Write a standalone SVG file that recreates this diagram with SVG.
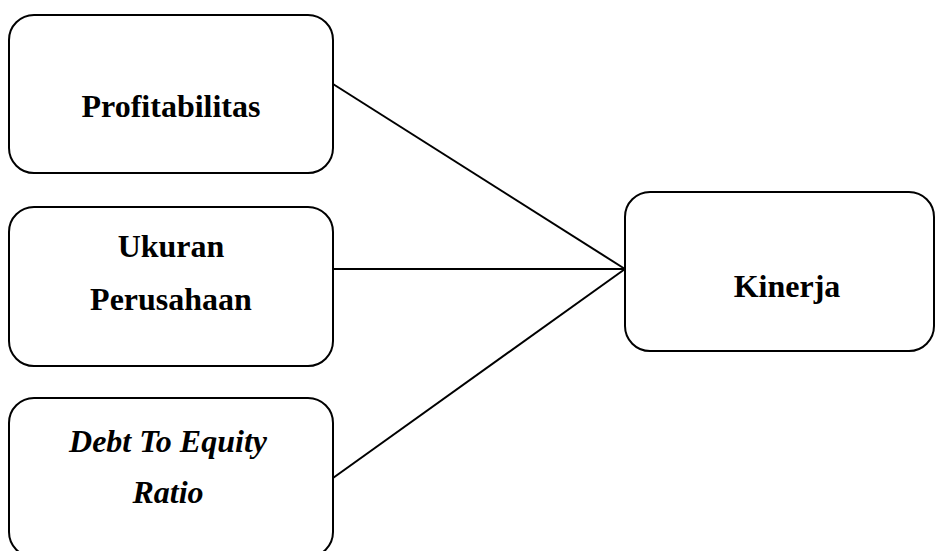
<svg xmlns="http://www.w3.org/2000/svg" width="936" height="551" viewBox="0 0 936 551">
<style>
.box{fill:#fff;stroke:#000;stroke-width:2}
.t{font-family:"Liberation Serif","Times New Roman",serif;font-size:32px;font-weight:bold;fill:#000;text-anchor:middle}
.i{font-style:italic}
.c{stroke:#000;stroke-width:2;fill:none}
</style>
<rect width="936" height="551" fill="#fff"/>
<g id="connectors">
<line class="c" x1="333" y1="84" x2="625" y2="269"/>
<line class="c" x1="333" y1="269" x2="625" y2="269"/>
<line class="c" x1="333" y1="478" x2="625" y2="269"/>
</g>
<g id="profitabilitas">
<rect class="box" x="9" y="15" width="324" height="158" rx="25"/>
<text class="t" x="171" y="117">Profitabilitas</text>
</g>
<g id="ukuran">
<rect class="box" x="9" y="207" width="324" height="159" rx="25"/>
<text class="t" x="171" y="257">Ukuran</text>
<text class="t" x="171" y="310">Perusahaan</text>
</g>
<g id="der">
<rect class="box" x="9" y="398" width="324" height="159" rx="25"/>
<text class="t i" x="168" y="452">Debt To Equity</text>
<text class="t i" x="168" y="503">Ratio</text>
</g>
<g id="kinerja">
<rect class="box" x="625" y="192" width="309" height="159" rx="25"/>
<text class="t" x="787" y="297">Kinerja</text>
</g>
</svg>
